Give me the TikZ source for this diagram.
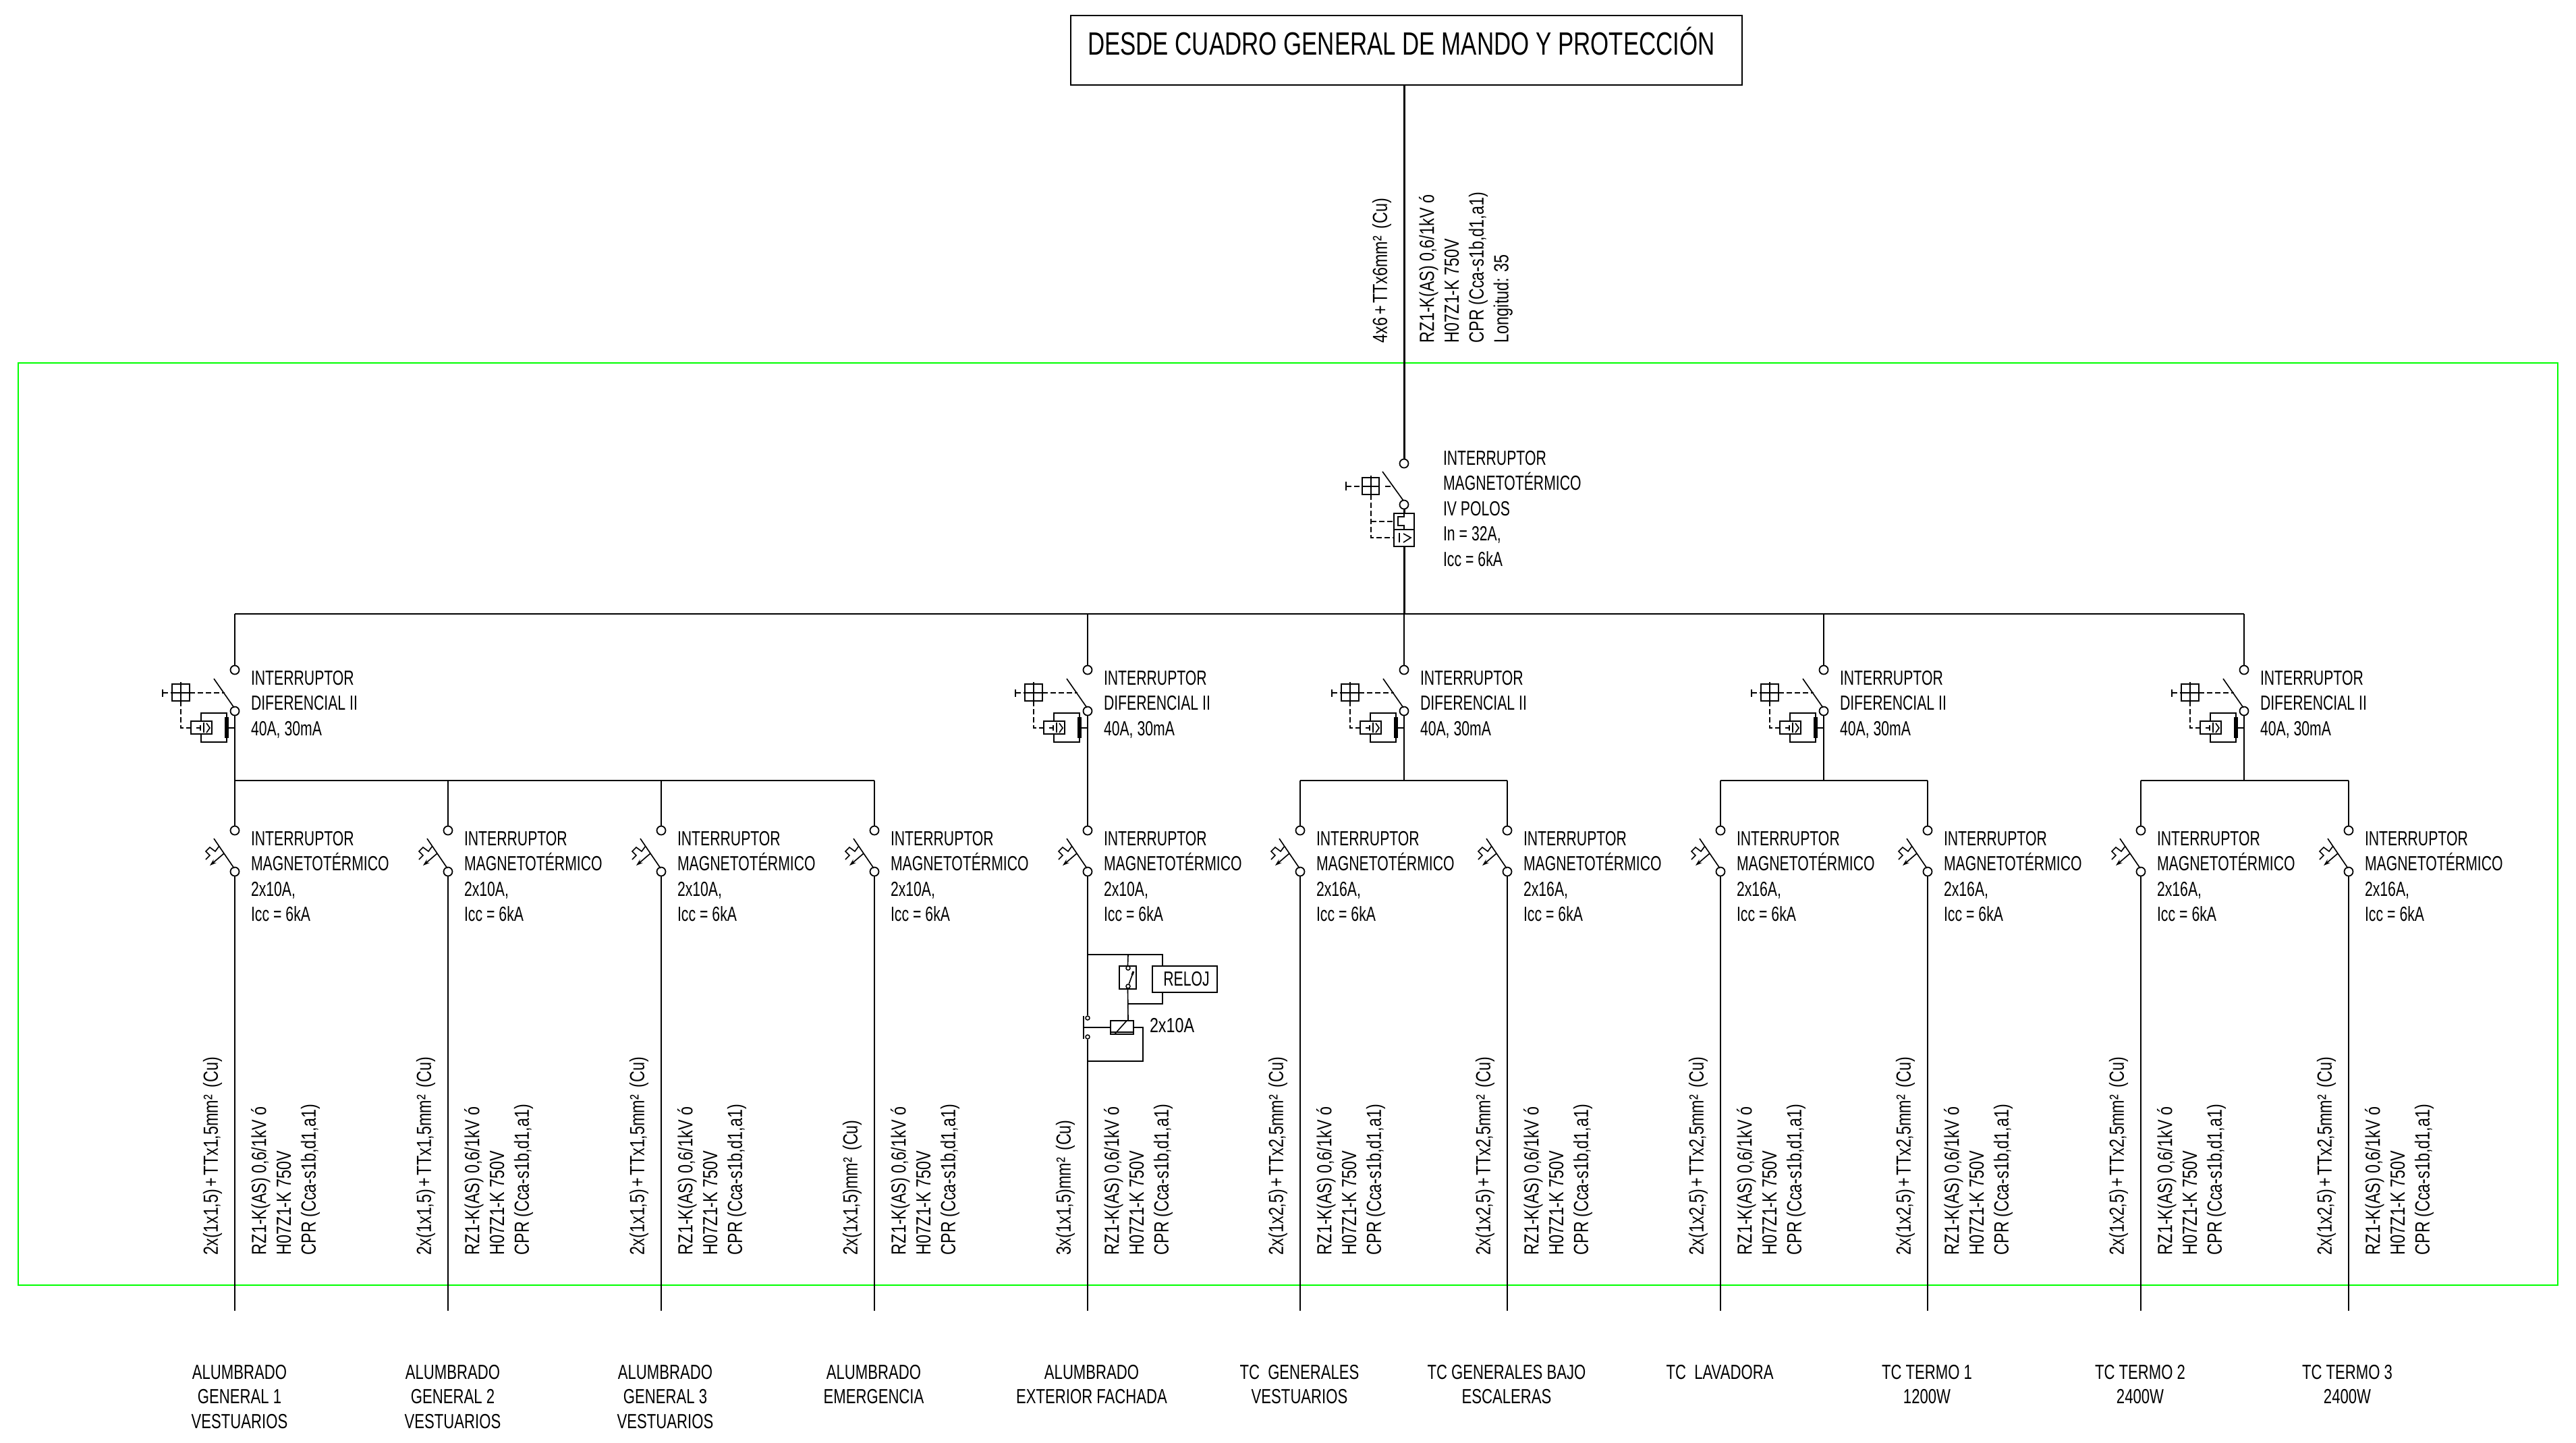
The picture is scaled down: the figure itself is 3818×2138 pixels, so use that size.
\documentclass[tikz,border=0pt]{standalone}
\usepackage{fontspec}
\setmainfont[FakeStretch=0.7]{Liberation Sans}
\newfontfamily\cablefont[FakeStretch=0.77]{Liberation Sans}
\newfontfamily\loadfont[FakeStretch=0.73]{Liberation Sans}
\usetikzlibrary{arrows.meta,positioning}

\newcommand{\plusk}{\kern0.7pt+\kern0.7pt}
\newcommand{\eqk}{\kern1.2pt=\kern1.2pt}

\tikzset{
  wire/.style={line width=0.5pt},
  thin wire/.style={line width=0.33pt},
  mains/.style={line width=0.6pt},
  dash wire/.style={line width=0.36pt,dash pattern=on 1.6pt off 0.8pt},
  terminal/.style={circle,draw,line width=0.36pt,inner sep=0pt,minimum size=2.6pt},
  small terminal/.style={circle,draw,line width=0.3pt,inner sep=0pt,minimum size=1.2pt},
  lbl/.style={anchor=north west,inner sep=0pt,align=left,font=\fontsize{6.06}{7.5}\selectfont},
  cable/.style={rotate=90,anchor=north west,inner sep=0pt,align=left,font=\cablefont\fontsize{6.06}{7.35}\selectfont},
  load/.style={anchor=north,inner sep=0pt,align=center,font=\loadfont\fontsize{6.06}{7.35}\selectfont},
  box/.style={draw,line width=0.36pt,inner sep=0pt}
}

\begin{document}
\begin{tikzpicture}[x=0.2pt,y=-0.2pt]
    \useasboundingbox (0,0) rectangle (3818,2138);

    \draw [green,line width=0.4pt] (27,538) rectangle (3791,1905);

    % cuadro general
    \node [draw,line width=0.55pt,minimum width=199pt,minimum height=20.6pt,inner sep=0pt] (cuadro) at (2084.5,74.5) {};
    \node [anchor=west,inner sep=0pt,font=\loadfont\fontsize{9.55}{11}\selectfont] (cuadro_txt) at (1611,61) {DESDE CUADRO GENERAL DE MANDO Y PROTECCIÓN};

    % interruptor general
    \node [terminal] (main_top) at (2081,687) {};
    \node [terminal] (main_bot) at (2081,748) {};
    \node [box,line width=0.5pt,minimum width=6pt,minimum height=9.8pt] (main_box) at (2081,785.5) {};
    \coordinate (bus_main) at (2081,910);
    \draw [mains] (main_top) -- (main_top |- cuadro.south);
    \draw [mains] (main_bot) -- (main_box.north);
    \draw [mains] (main_box.south) -- (bus_main);
    \node [cable] (main_sec) at (2033,509) {4x6\plusk TTx6mm²\kern0.8pt\ (Cu)};
    \node [cable] (main_cab) at (2102,509) {RZ1-K(AS) 0,6/1kV ó\\H07Z1-K 750V\\CPR (Cca-s1b,d1,a1)\\Longitud: 35};
    \node [lbl] (main_lbl) at (2138,667) {INTERRUPTOR\\MAGNETOTÉRMICO\\IV POLOS\\In\eqk 32A,\\Icc\eqk 6kA};

    \begin{scope}[shift={(2081,0)}]
      \draw [thin wire] (-32,699) -- (-1,742);
      \draw [wire] (-86,714) -- (-86,727);
      \draw [dash wire] (-86,721) -- (-62,721);
      \draw [dash wire] (-28,721) -- (-16,721);
      \draw [thin wire] (-62,708) rectangle (-37,733);
      \draw [thin wire] (-62,721) -- (-37,721);
      \draw [thin wire] (-49,705) -- (-49,733);
      \draw [dash wire] (-49,733) -- (-49,797) -- (-15,797);
      \draw [dash wire] (-49,773) -- (-15,773);
      \draw [thin wire] (-15,785) -- (15,785);
      \draw [thin wire] (0,761) -- (0,766) -- (-9,766) -- (-9,779) -- (0,779) -- (0,785);
      \draw [thin wire] (-7,790) -- (-7,804);
      \draw [thin wire] (-1,791) -- (10,797) -- (-1,804);
    \end{scope}

    % diferenciales
    \foreach \nm/\xx in {a/348,b/1612,c/2081,d/2703,e/3326} {
      \coordinate (bus_\nm) at (\xx,910);
      \coordinate (sub_\nm) at (\xx,1157);
      \node [terminal] (dif_top_\nm) at (\xx,993) {};
      \node [terminal] (dif_bot_\nm) at (\xx,1054) {};
      \draw [wire] (bus_\nm) -- (dif_top_\nm);
      \draw [wire] (dif_bot_\nm) -- (sub_\nm);
      \node [lbl] (dif_lbl_\nm) at (\xx+23,993) {INTERRUPTOR\\DIFERENCIAL II\\40A, 30mA};
      \begin{scope}[shift={(\xx,0)}]
        \draw [thin wire] (-31,1006) -- (-1,1049);
        \draw [wire] (-107,1022) -- (-107,1033);
        \draw [dash wire] (-107,1027) -- (-93,1027);
        \draw [dash wire] (-67,1027) -- (-15,1027);
        \draw [thin wire] (-93,1014) rectangle (-67,1039);
        \draw [thin wire] (-93,1027) -- (-67,1027);
        \draw [thin wire] (-80,1011) -- (-80,1039);
        \draw [dash wire] (-80,1039) -- (-80,1079) -- (-65,1079);
        \draw [thin wire] (-65,1069) rectangle (-34,1088);
        \draw [thin wire] (-50,1069) -- (-50,1057) -- (-12,1057) -- (-12,1100) -- (-50,1100) -- (-50,1088);
        \fill (-15,1063) rectangle (-9,1094);
        \draw [thin wire] (-9,1079) -- (0,1079);
        \draw [thin wire] (-57,1079) -- (-51,1079);
        \draw [thin wire] (-51,1075) -- (-51,1083);
        \draw [thin wire] (-46,1071) -- (-46,1086);
        \draw [thin wire] (-42,1072) -- (-37,1079) -- (-42,1086);
      \end{scope}
    }
    \draw [wire] (bus_a) -- (bus_e);

    % magnetotermicos
    \foreach \nm/\xx/\up/\amps/\cond in {
      a1/348/a/10/{2x(1x1,5)\plusk TTx1,5mm²},
      a2/664/a/10/{2x(1x1,5)\plusk TTx1,5mm²},
      a3/980/a/10/{2x(1x1,5)\plusk TTx1,5mm²},
      a4/1296/a/10/{2x(1x1,5)mm²},
      b1/1612/b/10/{3x(1x1,5)mm²},
      c1/1927/c/16/{2x(1x2,5)\plusk TTx2,5mm²},
      c2/2234/c/16/{2x(1x2,5)\plusk TTx2,5mm²},
      d1/2550/d/16/{2x(1x2,5)\plusk TTx2,5mm²},
      d2/2857/d/16/{2x(1x2,5)\plusk TTx2,5mm²},
      e1/3173/e/16/{2x(1x2,5)\plusk TTx2,5mm²},
      e2/3481/e/16/{2x(1x2,5)\plusk TTx2,5mm²}} {
      \coordinate (feed_\nm) at (\xx,1157);
      \node [terminal] (mt_top_\nm) at (\xx,1231) {};
      \node [terminal] (mt_bot_\nm) at (\xx,1292) {};
      \coordinate (end_\nm) at (\xx,1943);
      \draw [wire] (sub_\up -| feed_\nm) -- (mt_top_\nm);
      \draw [wire] (sub_\up) -- (feed_\nm);
      \node [lbl] (mt_lbl_\nm) at (\xx+23,1231) {INTERRUPTOR\\MAGNETOTÉRMICO\\2x\amps A,\\Icc\eqk 6kA};
      \node [cable] (sec_\nm) at (\xx-48,1861) {\cond\kern0.8pt\ (Cu)};
      \node [cable] (cab_\nm) at (\xx+23,1861) {RZ1-K(AS) 0,6/1kV ó\\H07Z1-K 750V\\CPR (Cca-s1b,d1,a1)};
      \begin{scope}[shift={(\xx,0)}]
        \draw [thin wire] (-31,1243) -- (-1,1287);
        \draw [thin wire] (-23,1254) -- (-29,1262) -- (-37,1256) -- (-43,1262) -- (-37,1268) -- (-43,1274);
        \draw [thin wire,-{Stealth[length=2pt,width=1.3pt]}] (-16,1265) -- (-37,1283);
      \end{scope}
    }
    \draw [wire] (feed_a1) -- (feed_a4);
    \draw [wire] (feed_c1) -- (feed_c2);
    \draw [wire] (feed_d1) -- (feed_d2);
    \draw [wire] (feed_e1) -- (feed_e2);

    % salidas directas
    \foreach \nm in {a1,a2,a3,a4,c1,c2,d1,d2,e1,e2} {
      \draw [wire] (mt_bot_\nm) -- (end_\nm);
    }

    % reloj y contactor
    \coordinate (tap_a) at (1612,1415);
    \coordinate (tap_b) at (1672,1415);
    \coordinate (tap_c) at (1723,1415);
    \coordinate (tap_d) at (1723,1488);
    \coordinate (tap_e) at (1672,1488);
    \coordinate (ret_a) at (1694,1523);
    \coordinate (ret_b) at (1694,1573);
    \coordinate (ret_c) at (1612,1573);
    \coordinate (bar_mid) at (1606,1523);
    \node [box,minimum width=5pt,minimum height=6.8pt] (reloj_sw) at (1671.5,1449) {};
    \node [box,minimum width=19.2pt,minimum height=7.8pt,font=\fontsize{6.06}{7.5}\selectfont] (reloj) at (1756,1451.5) {\hspace*{1pt}RELOJ};
    \node [box,minimum width=6.8pt,minimum height=4pt] (coil) at (1663,1523) {};
    \node [small terminal] (sw_top) at (1672,1435) {};
    \node [small terminal] (sw_bot) at (1672,1462) {};
    \node [small terminal] (km_top) at (1612,1509) {};
    \node [small terminal] (km_bot) at (1612,1537) {};
    \node [lbl,font=\cablefont\fontsize{6.06}{7.5}\selectfont] (km_lbl) at (1703,1508) {2x10A};
    \draw [wire] (mt_bot_b1) -- (km_top);
    \draw [wire] (km_bot) -- (end_b1);
    \draw [thin wire] (tap_a) -- (tap_c) -- (tap_c |- reloj.north);
    \draw [thin wire] (tap_b) -- (reloj_sw.north);
    \draw [thin wire] (reloj_sw.south) -- (tap_e |- coil.north);
    \draw [thin wire] (tap_d |- reloj.south) -- (tap_d) -- (tap_e);
    \draw [thin wire] (sw_bot) -- (1680,1440);
    \draw [line width=0.6pt] (1678,1445) -- (1680,1440);
    \draw [thin wire] (1646,1530) -- (1680,1530);
    \draw [thin wire] (1652,1533) -- (1670,1513);
    \draw [thin wire] (1606,1506) -- (1606,1540);
    \draw [thin wire] (bar_mid) -- (coil.west);
    \draw [thin wire] (coil.east) -- (ret_a) -- (ret_b) -- (ret_c);

    % receptores
    \node [load] (load_a1) at (355,2022) {ALUMBRADO\\GENERAL 1\\VESTUARIOS};
    \node [load] (load_a2) at (671,2022) {ALUMBRADO\\GENERAL 2\\VESTUARIOS};
    \node [load] (load_a3) at (986,2022) {ALUMBRADO\\GENERAL 3\\VESTUARIOS};
    \node [load] (load_a4) at (1295,2022) {ALUMBRADO\\EMERGENCIA};
    \node [load] (load_b1) at (1618,2022) {ALUMBRADO\\EXTERIOR FACHADA};
    \node [load] (load_c1) at (1926,2022) {TC\ \ GENERALES\\VESTUARIOS};
    \node [load] (load_c2) at (2233,2022) {TC GENERALES BAJO\\ESCALERAS};
    \node [load] (load_d1) at (2549,2022) {TC\ \ LAVADORA};
    \node [load] (load_d2) at (2856,2022) {TC TERMO 1\\1200W};
    \node [load] (load_e1) at (3172,2022) {TC TERMO 2\\2400W};
    \node [load] (load_e2) at (3479,2022) {TC TERMO 3\\2400W};

\end{tikzpicture}
\end{document}
